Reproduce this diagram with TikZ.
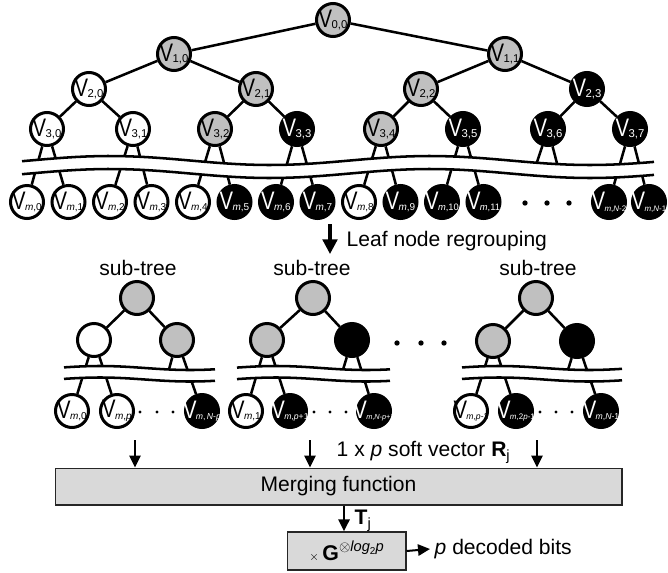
\documentclass[tikz,border=0pt]{standalone}
\usepackage{fontspec}
\setmainfont{Liberation Sans}
\usetikzlibrary{arrows.meta}

\definecolor{nodegray}{RGB}{192,192,192}
\definecolor{boxgray}{RGB}{217,217,217}

% vertex label: narrow V with a small index (zero width, so circles keep their size)
\newcommand{\vn}[2][8.5]{\makebox[0pt]{\scalebox{0.8}[1]{\fontsize{19}{19}\selectfont V}\kern-0.5pt\raisebox{-1.2pt}{\fontsize{#1}{#1}\selectfont #2}}}
% cut in the tree: white band between two wavy lines
% #1,#2 x range, #3 top line, #4 gap, #5 amplitude, #6 crest, #7 period
\newcommand{\cutband}[7]{%
  \fill[white] plot[domain=#1:#2,samples=60] (\x,{#3-#5*cos((360/#7)*(\x-#6))})
    -- plot[domain=#2:#1,samples=60] (\x,{#3+#4-#5*cos((360/#7)*(\x-#6))}) -- cycle;
  \draw[wavy] plot[domain=#1:#2,samples=60] (\x,{#3-#5*cos((360/#7)*(\x-#6))});
  \draw[wavy] plot[domain=#1:#2,samples=60] (\x,{#3+#4-#5*cos((360/#7)*(\x-#6))});
}

\begin{document}
\begin{tikzpicture}[x=0.75pt,y=-0.75pt,
    vert/.style={circle,draw=black,line width=2.25pt,minimum size=24.75pt,inner sep=0pt},
    wn/.style={vert,fill=white},
    gn/.style={vert,fill=nodegray},
    bn/.style={vert,fill=black,text=white},
    every edge/.style={draw=black,line width=1.9pt},
    wavy/.style={line width=1.9pt},
    lbl/.style={font=\fontsize{15.8}{18}\selectfont},
    bigarrow/.style={-{Triangle[width=11pt,length=11pt]},line width=2.4pt},
    feed/.style={-{Triangle[width=8.5pt,length=9pt]},line width=1.5pt},
    procbox/.style={draw=black!85,line width=1pt,fill=boxgray,font=\fontsize{15.8}{18}\selectfont}]
  \useasboundingbox (0,0) rectangle (668,572);

  % full tree
  \node[gn] (v00) at (333,20) {\vn{0,0}};
  \node[gn] (v10) at (174,54) {\vn{1,0}};
  \node[gn] (v11) at (505,54) {\vn{1,1}};
  \node[wn] (v20) at (89,89) {\vn{2,0}};
  \node[gn] (v21) at (256,89) {\vn{2,1}};
  \node[gn] (v22) at (421,89) {\vn{2,2}};
  \node[bn] (v23) at (587,89) {\vn{2,3}};
  \node[wn] (v30) at (47,129) {\vn{3,0}};
  \node[wn] (v31) at (133,129) {\vn{3,1}};
  \node[gn] (v32) at (215,129) {\vn{3,2}};
  \node[bn] (v33) at (297,129) {\vn{3,3}};
  \node[gn] (v34) at (381,129) {\vn{3,4}};
  \node[bn] (v35) at (463,129) {\vn{3,5}};
  \node[bn] (v36) at (548,129) {\vn{3,6}};
  \node[bn] (v37) at (630,129) {\vn{3,7}};

  % leaves
  \node[wn] (m0) at (27,202) {\vn[7.5]{\textit{m},0}};
  \node[wn] (m1) at (68.5,202) {\vn[7.5]{\textit{m},1}};
  \node[wn] (m2) at (110,202) {\vn[7.5]{\textit{m},2}};
  \node[wn] (m3) at (151.5,202) {\vn[7.5]{\textit{m},3}};
  \node[wn] (m4) at (193,202) {\vn[7.5]{\textit{m},4}};
  \node[bn] (m5) at (234.5,202) {\vn[7.5]{\textit{m},5}};
  \node[bn] (m6) at (276,202) {\vn[7.5]{\textit{m},6}};
  \node[bn] (m7) at (317.5,202) {\vn[7.5]{\textit{m},7}};
  \node[wn] (m8) at (359,202) {\vn[7.5]{\textit{m},8}};
  \node[bn] (m9) at (400.5,202) {\vn[7.5]{\textit{m},9}};
  \node[bn] (m10) at (442,202) {\vn[7]{\textit{m},10}};
  \node[bn] (m11) at (483.5,202) {\vn[7]{\textit{m},11}};
  \node[bn] (mN2) at (609,202) {\vn[6]{\textit{m},\textit{N}-2}};
  \node[bn] (mN1) at (649,202) {\vn[6]{\textit{m},\textit{N}-1}};
  \coordinate (h12) at (534,171);
  \coordinate (h13) at (559,171);
  \fill (525,203) circle (2pt) (547,203) circle (2pt) (569,203) circle (2pt);

  \path (v00) edge (v10);
  \path (v00) edge (v11);
  \path (v10) edge (v20);
  \path (v10) edge (v21);
  \path (v11) edge (v22);
  \path (v11) edge (v23);
  \path (v20) edge (v30);
  \path (v20) edge (v31);
  \path (v21) edge (v32);
  \path (v21) edge (v33);
  \path (v22) edge (v34);
  \path (v22) edge (v35);
  \path (v23) edge (v36);
  \path (v23) edge (v37);
  \path (v30) edge (m0);
  \path (v30) edge (m1);
  \path (v31) edge (m2);
  \path (v31) edge (m3);
  \path (v32) edge (m4);
  \path (v32) edge (m5);
  \path (v33) edge (m6);
  \path (v33) edge (m7);
  \path (v34) edge (m8);
  \path (v34) edge (m9);
  \path (v35) edge (m10);
  \path (v35) edge (m11);
  \path (v36) edge (h12);
  \path (v36) edge (h13);
  \path (v37) edge (mN2);
  \path (v37) edge (mN1);
  \cutband{22}{654}{160.5}{13}{4.5}{110}{320}

  % regrouping
  \coordinate (rg0) at (330,224);
  \coordinate (rg1) at (330,254);
  \draw[bigarrow] (rg0) -- (rg1);
  \node[lbl,anchor=west] (regroup) at (342,241) {Leaf node regrouping};

  \node[lbl] (t1) at (138,268) {sub-tree};
  \node[lbl] (t2) at (312,268) {sub-tree};
  \node[lbl] (t3) at (538,268) {sub-tree};

  % sub-tree 1
  \node[gn] (s1r) at (137,298) {};
  \node[wn] (s1a) at (94,340) {};
  \node[gn] (s1b) at (177,340) {};
  \node[wn] (s1l0) at (72,411) {\vn[7.5]{\textit{m},0}};
  \node[wn] (s1l1) at (117,411) {\vn[7.5]{\textit{m},\textit{p}}};
  \node[bn] (s1l2) at (202,411) {\vn[6.5]{\textit{m},\,\textit{N}-\textit{p}}};
  \coordinate (s1h) at (168,373);
  \path (s1r) edge (s1a);
  \path (s1r) edge (s1b);
  \path (s1a) edge (s1l0);
  \path (s1a) edge (s1l1);
  \path (s1b) edge (s1h);
  \path (s1b) edge (s1l2);
  \cutband{64}{215}{368}{11.5}{2}{100}{180}
  \fill (140,412) circle (1.3pt) (157,412) circle (1.3pt) (173,412) circle (1.3pt);

  % sub-tree 2
  \node[gn] (s2r) at (313,298) {};
  \node[gn] (s2a) at (267,340) {};
  \node[bn] (s2b) at (352,340) {};
  \node[wn] (s2l0) at (246,411) {\vn[7.5]{\textit{m},1}};
  \node[bn] (s2l1) at (290,411) {\vn[6.5]{\textit{m},\textit{p}+1}};
  \node[bn] (s2l2) at (374,411) {\vn[5.5]{\textit{m},\textit{N}-\textit{p}+1}};
  \coordinate (s2h) at (342,373);
  \path (s2r) edge (s2a);
  \path (s2r) edge (s2b);
  \path (s2a) edge (s2l0);
  \path (s2a) edge (s2l1);
  \path (s2b) edge (s2h);
  \path (s2b) edge (s2l2);
  \cutband{237}{390}{368}{11.5}{2}{276}{180}
  \fill (314,412) circle (1.3pt) (330,412) circle (1.3pt) (346,412) circle (1.3pt);

  \fill (397,343) circle (2pt) (421,343) circle (2pt) (444,343) circle (2pt);

  % sub-tree 3
  \node[gn] (s3r) at (536,298) {};
  \node[gn] (s3a) at (493,341) {};
  \node[bn] (s3b) at (577,341) {};
  \node[wn] (s3l0) at (471,411) {\vn[6.5]{\textit{m},\textit{p}-1}};
  \node[bn] (s3l1) at (516,411) {\vn[6]{\textit{m},2\textit{p}-1}};
  \node[bn] (s3l2) at (601,411) {\vn[6.5]{\textit{m},\textit{N}-1}};
  \coordinate (s3h) at (567,373);
  \path (s3r) edge (s3a);
  \path (s3r) edge (s3b);
  \path (s3a) edge (s3l0);
  \path (s3a) edge (s3l1);
  \path (s3b) edge (s3h);
  \path (s3b) edge (s3l2);
  \cutband{462}{622}{368}{11.5}{2}{499}{180}
  \fill (540,412) circle (1.3pt) (556,412) circle (1.3pt) (572,412) circle (1.3pt);

  % merging and generator
  \node[procbox,minimum width=425pt,minimum height=27.5pt] (merge) at (338.5,486.5) {Merging function};
  \node[procbox,minimum width=89pt,minimum height=28.5pt,inner sep=0pt] (gbox) at (346.5,551)
    {{\fontsize{9}{9}\selectfont$\times$}\,{\fontsize{16}{16}\selectfont\bfseries G}\raisebox{6.5pt}{\fontsize{11}{11}\selectfont$\otimes$\textit{log}\raisebox{-2.5pt}{\fontsize{7.5}{7.5}\selectfont 2}\textit{p}}};

  \coordinate (a1) at (135,440);
  \coordinate (a2) at (310,440);
  \coordinate (a3) at (537,440);
  \draw[feed] (a1) -- (a1 |- merge.north);
  \draw[feed] (a2) -- (a2 |- merge.north);
  \draw[feed] (a3) -- (a3 |- merge.north);
  \node[lbl,anchor=west] (soft) at (332,452) {1 x \textit{p} soft vector \textbf{R}\textsubscript{j}};

  \coordinate (tj) at (344,520);
  \draw[feed] (tj |- merge.south) -- (tj |- gbox.north);
  \node[lbl,anchor=west] (tlab) at (350,521) {\textbf{T}\textsubscript{j}};

  \node[lbl,anchor=west] (bits) at (430,549) {\textit{p} decoded bits};
  \draw[feed] (gbox.east) -- (bits.west);
\end{tikzpicture}
\end{document}
